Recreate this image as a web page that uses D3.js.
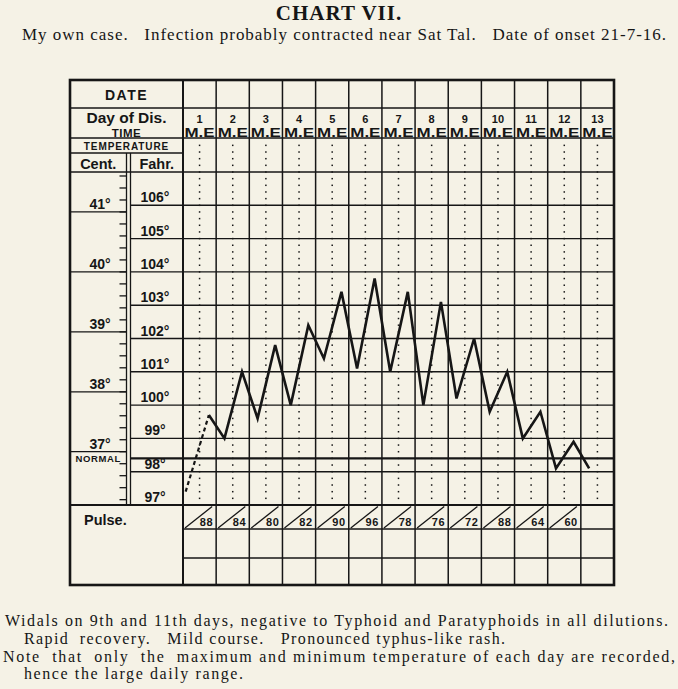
<!DOCTYPE html>
<html>
<head>
<meta charset="utf-8">
<script src="https://cdn.jsdelivr.net/npm/d3@7"></script>
<style>
  body { margin: 0; background: #f5f2e6; }
  svg { display: block; }
  .lab { font-family: "Liberation Sans", Arial, sans-serif; font-weight: bold; fill: #161616; }
  .serif { font-family: "Liberation Serif", "DejaVu Serif", serif; fill: #161616; }
</style>
</head>
<body>
<div id="chart"></div>
<script>
// chart values
var days = [1, 2, 3, 4, 5, 6, 7, 8, 9, 10, 11, 12, 13];
var fahrTicks = [97, 98, 99, 100, 101, 102, 103, 104, 105, 106];
var centTicks = [37, 38, 39, 40, 41];
var pulse = [88, 84, 80, 82, 90, 96, 78, 76, 72, 88, 64, 60];

// onset reading (dashed part), then morning / evening readings
var onsetDay = 1.08, onsetTemp = 97.4;
var readDay  = [1, 2, 2, 3, 3, 4, 4, 5, 5, 6, 6, 7, 7, 8, 8, 9, 9, 10, 10, 11, 11, 12, 12, 13];
var readTime = ["E", "M", "E", "M", "E", "M", "E", "M", "E", "M", "E", "M", "E", "M", "E", "M", "E", "M", "E", "M", "E", "M", "E", "M"];
var readTemp = [99.7, 99.0, 101.0, 99.6, 101.8, 100.0, 102.4, 101.4, 103.4, 101.1, 103.8, 101.0,
                103.4, 100.0, 103.1, 100.2, 102.0, 99.8, 101.0, 99.0, 99.8, 98.1, 98.9, 98.1];
var normalTemp = 98.4;

var title = "CHART VII.";
var subtitle = "My own case.   Infection probably contracted near Sat Tal.   Date of onset 21-7-16.";
var notes = [
  "Widals on 9th and 11th days, negative to Typhoid and Paratyphoids in all dilutions.",
  "Rapid  recovery.   Mild course.   Pronounced typhus-like rash.",
  "Note  that  only  the  maximum and minimum temperature of each day are recorded,",
  "hence the large daily range."
];

var width = 678, height = 689;
var ink = "#161616";

var svg = d3.select("#chart").append("svg")
    .attr("width", width)
    .attr("height", height)

svg.append("rect").attr("width", width).attr("height", height).attr("fill", "#f5f2e6")

// frame
var fL = 70, fR = 614, fT = 80, fB = 585;
var colX = 183;       // start of the day columns
var divA = 126.5, divB = 130.5;   // double line between Cent. and Fahr.
var rowDay = 108, rowTemp = 138, rowCF = 153, gridTop = 172, gridBot = 505;
var pulse1 = 529, pulse2 = 558;

var x = d3.scaleLinear().domain([1, 14]).range([colX, fR])
var y = d3.scaleLinear().domain([97, 107]).range([gridBot, gridTop])
var colW = x(2) - x(1);
var timeOffset = { M: 0.25, E: 0.78 };
var c2f = function (c) { return c * 1.8 + 32; }

function line(x1, y1, x2, y2, w) {
    svg.append("line")
        .attr("x1", x1).attr("y1", y1).attr("x2", x2).attr("y2", y2)
        .attr("stroke", ink).attr("stroke-width", w || 1.4)
}

// dotted centre line of each day column
var dotTemps = d3.range(97.2, 108.01, 0.2).filter(function (t) { return y(t) > rowTemp + 1; });
days.forEach(function (d) {
    svg.append("g").selectAll("rect")
        .data(dotTemps)
        .enter()
        .append("rect")
        .attr("x", x(d) + colW / 2 - 0.75)
        .attr("y", function (t) { return y(t) - 0.75 })
        .attr("width", 1.5)
        .attr("height", 1.5)
        .attr("fill", ink)
})

// header rows
line(fL, rowDay, fR, rowDay, 1.6)
line(fL, rowTemp, fR, rowTemp, 1.6)
line(fL, rowCF, colX, rowCF, 1.4)
line(fL, gridTop, fR, gridTop, 1.6)

// Fahrenheit degree lines (across Fahr. column and day columns)
svg.append("g").selectAll("line")
    .data(fahrTicks.filter(function (f) { return f > 97; }))
    .enter()
    .append("line")
    .attr("x1", divB).attr("x2", fR)
    .attr("y1", function (f) { return y(f) }).attr("y2", function (f) { return y(f) })
    .attr("stroke", ink).attr("stroke-width", 1.4)

// normal line
line(divB, y(normalTemp), fR, y(normalTemp), 2.4)

// Centigrade lines and ticks
svg.append("g").selectAll("line")
    .data(centTicks)
    .enter()
    .append("line")
    .attr("x1", fL).attr("x2", divA)
    .attr("y1", function (c) { return y(c2f(c)) }).attr("y2", function (c) { return y(c2f(c)) })
    .attr("stroke", ink).attr("stroke-width", 1.3)

var smallC = d3.range(36.2, 41.61, 0.2);
svg.append("g").selectAll("line")
    .data(smallC)
    .enter()
    .append("line")
    .attr("x1", divA - 7).attr("x2", divA)
    .attr("y1", function (c) { return y(c2f(c)) }).attr("y2", function (c) { return y(c2f(c)) })
    .attr("stroke", ink).attr("stroke-width", 1.3)

// pulse rows
line(fL, gridBot, fR, gridBot, 2)
line(colX, pulse1, fR, pulse1, 1.6)
line(colX, pulse2, fR, pulse2, 1.6)

// verticals
days.forEach(function (d) {
    if (d > 1) line(x(d), fT, x(d), fB, 1.5)
})
line(colX, fT, colX, fB, 2)
line(divA, rowCF, divA, gridBot, 1.3)
line(divB, rowCF, divB, gridBot, 1.3)

// outer frame
svg.append("rect")
    .attr("x", fL).attr("y", fT)
    .attr("width", fR - fL).attr("height", fB - fT)
    .attr("fill", "none").attr("stroke", ink).attr("stroke-width", 2.6)

// left header labels
function label(txt, tx, ty, size, anchor, spacing) {
    return svg.append("text")
        .attr("class", "lab")
        .attr("x", tx).attr("y", ty)
        .attr("text-anchor", anchor || "middle")
        .attr("font-size", size)
        .attr("letter-spacing", spacing || 0)
        .text(txt)
}
label("DATE", (fL + colX) / 2, 100, 14, "middle", 1.5)
label("Day of Dis.", (fL + colX) / 2, 123, 15.5)
label("TIME", (fL + colX) / 2, 136.5, 11.5, "middle", 0.5)
label("TEMPERATURE", (fL + colX) / 2, 150, 10, "middle", 0.9)
label("Cent.", (fL + divA) / 2, 168.5, 14.5)
label("Fahr.", (divB + colX) / 2, 168.5, 14.5)
label("Pulse.", 84, 525, 14.5, "start")

// day numbers and M.E
svg.append("g").selectAll("text")
    .data(days)
    .enter()
    .append("text")
    .attr("class", "lab")
    .attr("x", function (d) { return x(d) + colW / 2 })
    .attr("y", 123)
    .attr("text-anchor", "middle")
    .attr("font-size", 11)
    .text(function (d) { return d; })

svg.append("g").selectAll("text")
    .data(days)
    .enter()
    .append("text")
    .attr("class", "lab")
    .attr("x", function (d) { return x(d) + colW / 2 })
    .attr("y", 136.5)
    .attr("text-anchor", "middle")
    .attr("font-size", 12.5)
    .attr("textLength", colW - 3)
    .attr("lengthAdjust", "spacingAndGlyphs")
    .text("M.E")

// Fahrenheit labels
svg.append("g").selectAll("text")
    .data(fahrTicks)
    .enter()
    .append("text")
    .attr("class", "lab")
    .attr("x", 155)
    .attr("y", function (f) { return y(f) - 3 })
    .attr("text-anchor", "middle")
    .attr("font-size", 14)
    .text(function (f) { return f + "°"; })

// Centigrade labels
svg.append("g").selectAll("text")
    .data(centTicks)
    .enter()
    .append("text")
    .attr("class", "lab")
    .attr("x", 100)
    .attr("y", function (c) { return y(c2f(c)) - 3 })
    .attr("text-anchor", "middle")
    .attr("font-size", 14)
    .text(function (c) { return c + "°"; })

label("NORMAL", (fL + divA) / 2, y(normalTemp) + 3.5, 9.5, "middle", 0.6)

// temperature curve
var pts = readDay.map(function (d, i) {
    return [x(d + timeOffset[readTime[i]]), y(readTemp[i])];
});
svg.append("line")
    .attr("x1", x(onsetDay)).attr("y1", y(onsetTemp))
    .attr("x2", pts[0][0]).attr("y2", pts[0][1])
    .attr("stroke", ink).attr("stroke-width", 2.2)
    .attr("stroke-dasharray", "4,3")
svg.append("path")
    .attr("d", d3.line()(pts))
    .attr("fill", "none")
    .attr("stroke", ink)
    .attr("stroke-width", 2.6)
    .attr("stroke-linejoin", "miter")

// pulse cells
var pg = svg.append("g").selectAll("g")
    .data(pulse)
    .enter()
    .append("g")
pg.append("line")
    .attr("x1", function (p, i) { return x(i + 1) + 2 })
    .attr("y1", pulse1 - 1)
    .attr("x2", function (p, i) { return x(i + 2) - 4 })
    .attr("y2", gridBot + 1.5)
    .attr("stroke", ink).attr("stroke-width", 1.3)
pg.append("text")
    .attr("class", "lab")
    .attr("x", function (p, i) { return x(i + 2) - 3 })
    .attr("y", pulse1 - 3)
    .attr("text-anchor", "end")
    .attr("font-size", 11)
    .attr("letter-spacing", 0.6)
    .text(function (p) { return p; })

// title and notes
svg.append("text")
    .attr("class", "serif")
    .attr("x", 339).attr("y", 20)
    .attr("text-anchor", "middle")
    .attr("font-size", 21)
    .attr("font-weight", "bold")
    .attr("letter-spacing", 1)
    .text(title)

svg.append("text")
    .attr("class", "serif")
    .attr("x", 22).attr("y", 40)
    .attr("font-size", 17)
    .attr("textLength", 644)
    .attr("lengthAdjust", "spacing")
    .style("white-space", "pre")
    .text(subtitle)

var noteX = [5, 24, 3, 24];
var noteY = [626, 644, 662, 679];
var noteW = [663, 481, 672, 219];
svg.append("g").selectAll("text")
    .data(notes)
    .enter()
    .append("text")
    .attr("class", "serif")
    .attr("x", function (d, i) { return noteX[i] })
    .attr("y", function (d, i) { return noteY[i] })
    .attr("font-size", 16)
    .attr("textLength", function (d, i) { return noteW[i] })
    .attr("lengthAdjust", "spacing")
    .style("white-space", "pre")
    .text(function (d) { return d; })
</script>
</body>
</html>
